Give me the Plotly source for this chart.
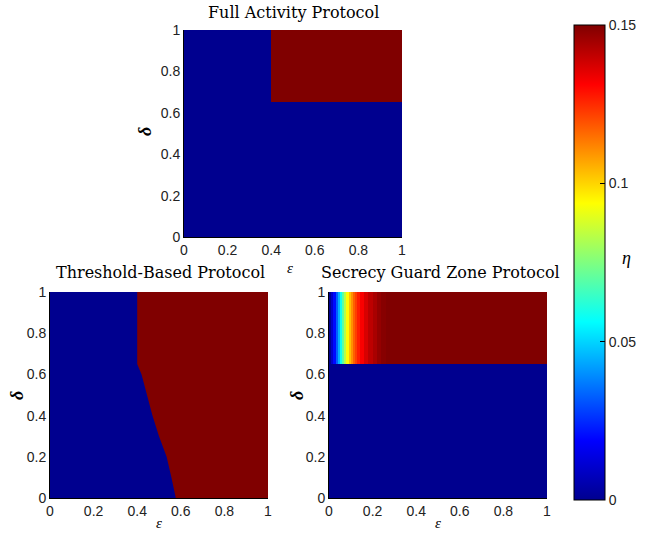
import plotly.graph_objects as go

# ---------------- data ----------------
# Full Activity Protocol: eta is 0 except for eps > 0.4 and delta > 0.65
fa_eps_edges = [0.0, 0.4, 1.0]
fa_delta_edges = [0.0, 0.65, 1.0]
fa_eta = [[0.0, 0.0],
          [0.0, 0.15]]

# Threshold-Based Protocol: boundary between eta=0 (left) and eta=0.15 (right)
tb_boundary_delta = [1.0, 0.65, 0.6, 0.5, 0.4, 0.3, 0.2, 0.1, 0.0]
tb_boundary_eps = [0.40, 0.40, 0.42, 0.445, 0.47, 0.50, 0.535, 0.557, 0.577]
tb_low, tb_high = 0.0, 0.15

# Secrecy Guard Zone Protocol: eta vs eps in the band delta > 0.65
gz_eps_edges = [0.0, 0.01, 0.02, 0.03, 0.04, 0.05, 0.06, 0.07, 0.08, 0.09, 0.10, 0.11,
                0.12, 0.13, 0.14, 0.16, 0.18, 0.20, 0.22, 0.24, 0.26, 1.0]
gz_eta_top = [0.0, 0.01, 0.02, 0.033, 0.045, 0.058, 0.07, 0.083, 0.094, 0.103, 0.11,
              0.117, 0.122, 0.127, 0.132, 0.137, 0.141, 0.144, 0.147, 0.149, 0.15]
gz_delta_edges = [0.0, 0.65, 1.0]

xticks = [0, 0.2, 0.4, 0.6, 0.8, 1]
yticks = [0, 0.2, 0.4, 0.6, 0.8, 1]
cb_ticks = [0, 0.05, 0.1, 0.15]
cb_ticktext = ["0", "0.05", "0.1", "0.15"]

titles = ["Full Activity Protocol", "Threshold-Based Protocol", "Secrecy Guard Zone Protocol"]

# MATLAB jet
jet = [[0.0, "rgb(0,0,143)"], [0.125, "rgb(0,0,255)"], [0.375, "rgb(0,255,255)"],
       [0.625, "rgb(255,255,0)"], [0.875, "rgb(255,0,0)"], [1.0, "rgb(128,0,0)"]]
DARKRED = "rgb(128,0,0)"

W, H = 665, 540
def px_x(a, b):
    return [a / W, b / W]
def px_y(top, bottom):
    return [(H - bottom) / H, (H - top) / H]

fig = go.Figure()

# top plot
fig.add_trace(go.Heatmap(x=fa_eps_edges, y=fa_delta_edges, z=fa_eta, coloraxis="coloraxis",
                         xaxis="x", yaxis="y", hoverinfo="skip"))
# threshold-based: background + high region polygon
fig.add_trace(go.Heatmap(x=[0.0, 1.0], y=[0.0, 1.0], z=[[tb_low]], coloraxis="coloraxis",
                         xaxis="x2", yaxis="y2", hoverinfo="skip"))
poly_x = tb_boundary_eps + [1.0, 1.0]
poly_y = tb_boundary_delta + [0.0, 1.0]
fig.add_trace(go.Scatter(x=poly_x, y=poly_y, fill="toself", fillcolor=DARKRED,
                         line=dict(width=0, color=DARKRED), mode="lines",
                         xaxis="x2", yaxis="y2", showlegend=False, hoverinfo="skip"))
# guard zone
gz_z = [[0.0] * len(gz_eta_top), gz_eta_top]
fig.add_trace(go.Heatmap(x=gz_eps_edges, y=gz_delta_edges, z=gz_z, coloraxis="coloraxis",
                         xaxis="x3", yaxis="y3", hoverinfo="skip"))

tickfont = dict(family="Liberation Sans, Arial, sans-serif", size=14, color="#222")
def xax(domain, anchor):
    return dict(domain=domain, anchor=anchor, range=[0, 1], tickvals=xticks,
                showline=True, linecolor="black", linewidth=1, mirror=False,
                ticks="", showgrid=False, zeroline=False, tickfont=tickfont,
                fixedrange=True, automargin=False)
def yax(domain, anchor):
    return dict(domain=domain, anchor=anchor, range=[0, 1], tickvals=yticks,
                showline=True, linecolor="black", linewidth=1, mirror=False,
                ticks="", showgrid=False, zeroline=False, tickfont=tickfont,
                fixedrange=True, automargin=False)

fig.update_layout(
    width=W, height=H, margin=dict(l=0, r=0, t=0, b=0, autoexpand=False),
    paper_bgcolor="white", plot_bgcolor="white", showlegend=False,
    xaxis=xax(px_x(184, 402), "y"), yaxis=yax(px_y(30, 237), "x"),
    xaxis2=xax(px_x(50, 268), "y2"), yaxis2=yax(px_y(292, 498), "x2"),
    xaxis3=xax(px_x(329, 547), "y3"), yaxis3=yax(px_y(292, 498), "x3"),
    coloraxis=dict(cmin=0, cmax=0.15, colorscale=jet,
                   colorbar=dict(x=574 / W, xanchor="left", xref="paper",
                                 y=(H - 262.5) / H, yanchor="middle", len=475 / H,
                                 lenmode="fraction", thickness=31, xpad=0, ypad=0,
                                 outlinewidth=1, outlinecolor="black",
                                 tickvals=cb_ticks, ticktext=cb_ticktext,
                                 ticks="inside", ticklen=5, tickcolor="black",
                                 tickfont=tickfont)),
)

serif = "DejaVu Serif, Liberation Serif, serif"
ann = []
# titles
for txt, xc, yc in [(titles[0], 293, 12), (titles[1], 160, 272), (titles[2], 440, 272)]:
    ann.append(dict(text=txt, x=xc / W, y=(H - yc) / H, xref="paper", yref="paper",
                    showarrow=False, xanchor="center", yanchor="middle",
                    font=dict(family=serif, size=16, color="black")))
# epsilon labels
for xc, yc in [(290, 268), (159, 523), (438, 523)]:
    ann.append(dict(text="<i>ε</i>", x=xc / W, y=(H - yc) / H, xref="paper", yref="paper",
                    showarrow=False, xanchor="center", yanchor="middle",
                    font=dict(family="Liberation Serif, serif", size=15, color="black")))
# delta labels
for xc, yc in [(145, 132), (17, 396), (297, 396)]:
    ann.append(dict(text="<b><i>δ</i></b>", x=xc / W, y=(H - yc) / H, xref="paper", yref="paper",
                    showarrow=False, xanchor="center", yanchor="middle", textangle=-90,
                    font=dict(family="Liberation Serif, serif", size=18, color="black")))
# eta label
ann.append(dict(text="<i>η</i>", x=626 / W, y=(H - 258) / H, xref="paper", yref="paper",
                showarrow=False, xanchor="center", yanchor="middle",
                font=dict(family="Liberation Serif, serif", size=18, color="black")))
fig.update_layout(annotations=ann)

fig.write_html("out.html")
